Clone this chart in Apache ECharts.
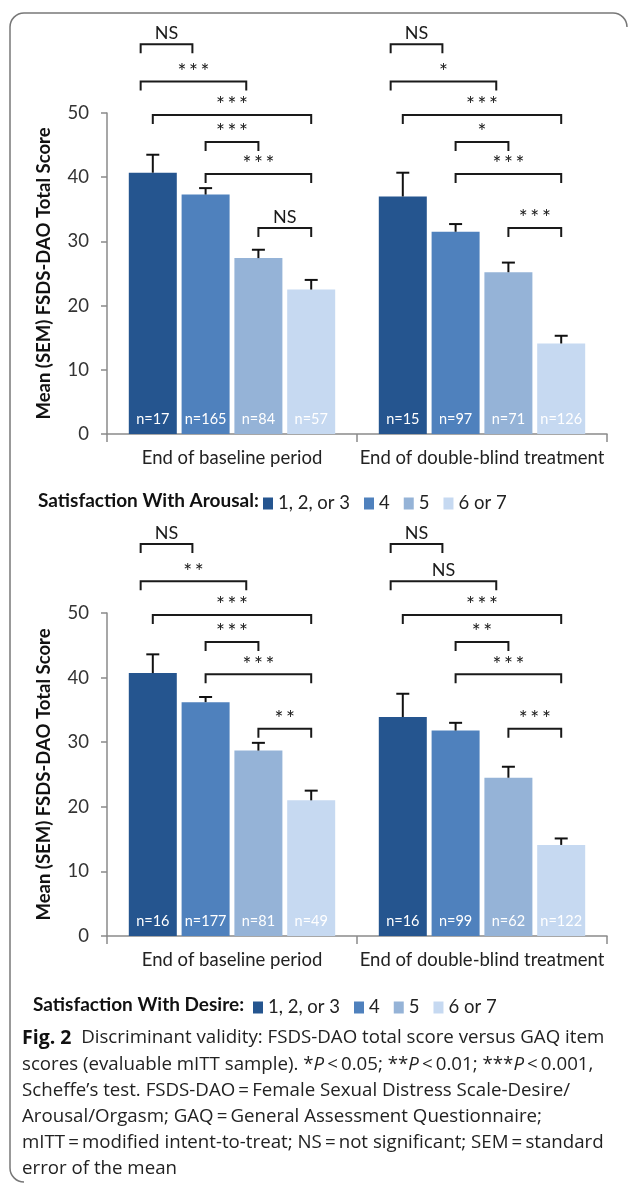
<!DOCTYPE html>
<html>
<head>
<meta charset="utf-8">
<script src="https://cdn.jsdelivr.net/npm/echarts@6/dist/echarts.min.js"></script>
<style>
html,body{margin:0;padding:0;background:#fff;}
#chart{width:630px;height:1185px;}
</style>
</head>
<body>
<div id="chart"></div>
<script>
// ---------- DATA ----------
const categories = ['End of baseline period', 'End of double-blind treatment'];
const levelNames = ['1, 2, or 3', '4', '5', '6 or 7'];
const yTicks = [0, 10, 20, 30, 40, 50];

// Satisfaction With Arousal (per level: [baseline, double-blind])
const arousalMean = [[40.7, 37.0], [37.3, 31.5], [27.4, 25.2], [22.5, 14.1]];
const arousalSem  = [[2.8, 3.7], [1.0, 1.2], [1.3, 1.5], [1.5, 1.2]];
const arousalN    = [[17, 15], [165, 97], [84, 71], [57, 126]];

// Satisfaction With Desire
const desireMean = [[40.7, 33.9], [36.2, 31.8], [28.7, 24.5], [21.0, 14.1]];
const desireSem  = [[2.9, 3.6], [0.8, 1.2], [1.2, 1.7], [1.5, 1.0]];
const desireN    = [[16, 16], [177, 99], [81, 62], [49, 122]];

// Significance brackets: [category, fromBar, toBar, level (score units)]
const bracketSpans = [
  [0, -0.23, 0.75, 60.7], [0, -0.23, 1.77, 54.9], [0, 0, 3, 49.7], [0, 1, 2, 45.5], [0, 1, 3, 40.5], [0, 2, 3, 32.1],
  [1, -0.23, 0.75, 60.7], [1, -0.23, 1.77, 54.9], [1, 0, 3, 49.7], [1, 1, 2, 45.5], [1, 1, 3, 40.5], [1, 2, 3, 32.1]
];
const arousalSig = ['NS', '***', '***', '***', '***', 'NS', 'NS', '*', '***', '*', '***', '***'];
const desireSig  = ['NS', '**', '***', '***', '***', '**', 'NS', 'NS', '***', '**', '***', '***'];

const legendTitles = ['Satisfaction With Arousal:', 'Satisfaction With Desire:'];
const yAxisTitle = 'Mean (SEM) FSDS-DAO Total Score';

// ---------- STYLE ----------
const colors = ['#25558F', '#4F81BD', '#95B3D7', '#C6D9F1'];
const FONT = 'Lato, "Open Sans", sans-serif';
const CAP_FONT = '"Open Sans", sans-serif';
const BAR_W = 48, BAR_GAP = 0.1;
const PITCH = BAR_W * (1 + BAR_GAP);

const chart = echarts.init(document.getElementById('chart'));

function starText(s) { return s.indexOf('*') >= 0 ? s.split('').join('\u2009') : s; }

function barSeries(means, ns, gi) {
  return means.map((vals, li) => ({
    type: 'bar', name: levelNames[li], xAxisIndex: gi, yAxisIndex: gi,
    data: vals, barWidth: BAR_W, barGap: (BAR_GAP * 100) + '%',
    itemStyle: { color: colors[li] },
    label: {
      show: true, position: 'insideBottom', distance: 7,
      color: '#fff', fontFamily: FONT, fontSize: 14.5,
      formatter: p => 'n=' + ns[li][p.dataIndex]
    },
    emphasis: { disabled: true }, animation: false
  }));
}

function errorSeries(means, sems, gi) {
  const data = [];
  means.forEach((vals, li) => vals.forEach((m, ci) => data.push([ci, li, m, m + sems[li][ci]])));
  return {
    type: 'custom', xAxisIndex: gi, yAxisIndex: gi, data: data, z: 5, clip: false, silent: true,
    encode: { x: 0, y: 3 },
    renderItem: (params, api) => {
      const base = api.coord([api.value(0), api.value(2)]);
      const top = api.coord([api.value(0), api.value(3)]);
      const x = base[0] + (api.value(1) - 1.5) * PITCH;
      return {
        type: 'group', children: [
          { type: 'line', shape: { x1: x, y1: base[1], x2: x, y2: top[1] }, style: { stroke: '#111', lineWidth: 2 } },
          { type: 'line', shape: { x1: x - 6.5, y1: top[1], x2: x + 6.5, y2: top[1] }, style: { stroke: '#111', lineWidth: 2 } }
        ]
      };
    }, animation: false
  };
}

function bracketSeries(labels, gi) {
  return {
    type: 'custom', xAxisIndex: gi, yAxisIndex: gi, data: bracketSpans, z: 6, clip: false, silent: true,
    encode: { x: 0, y: 3 },
    renderItem: (params, api) => {
      const c = api.coord([api.value(0), api.value(3)]);
      const x1 = c[0] + (api.value(1) - 1.5) * PITCH;
      const x2 = c[0] + (api.value(2) - 1.5) * PITCH;
      const y = c[1];
      const lab = labels[params.dataIndex];
      const isStar = lab.indexOf('*') >= 0;
      return {
        type: 'group', children: [
          { type: 'polyline', shape: { points: [[x1, y + 9], [x1, y], [x2, y], [x2, y + 9]] },
            style: { stroke: '#1a1a1a', lineWidth: 2, fill: null } },
          { type: 'text', x: (x1 + x2) / 2, y: isStar ? y + 1 : y - 2,
            style: { text: starText(lab), fill: '#1a1a1a', fontFamily: FONT,
                     fontSize: isStar ? 21 : 18, align: 'center', verticalAlign: 'bottom' } }
        ]
      };
    }, animation: false
  };
}

function xAxis(gi) {
  return {
    type: 'category', gridIndex: gi, data: categories,
    axisLine: { lineStyle: { color: '#8a8a8a', width: 1.5 } },
    axisTick: { show: true, length: 8, lineStyle: { color: '#8a8a8a', width: 1.5 } },
    axisLabel: { interval: 0, fontFamily: FONT, fontSize: 18.5, color: '#222', margin: 15 }
  };
}
function yAxis(gi) {
  return {
    type: 'value', gridIndex: gi, min: 0, max: 50, interval: 10,
    name: yAxisTitle, nameLocation: 'middle', nameGap: 53,
    nameTextStyle: { fontFamily: FONT, fontSize: 18.5, fontWeight: 'bold', color: '#111' },
    axisLine: { show: true, lineStyle: { color: '#8a8a8a', width: 1.5 } },
    axisTick: { show: true, length: 6, lineStyle: { color: '#8a8a8a', width: 1.5 } },
    splitLine: { show: false },
    axisLabel: { fontFamily: FONT, fontSize: 18.5, color: '#333', margin: 18,
                 formatter: v => yTicks.indexOf(v) >= 0 ? String(v) : '' }
  };
}

const caption =
  '{b|Fig. 2}  Discriminant validity: FSDS-DAO total score versus GAQ item\n' +
  'scores (evaluable mITT sample). *{i|P}\u2009<\u20090.05; **{i|P}\u2009<\u20090.01; ***{i|P}\u2009<\u20090.001,\n' +
  'Scheffe\u2019s test. FSDS-DAO\u2009=\u2009Female Sexual Distress Scale-Desire/\n' +
  'Arousal/Orgasm; GAQ\u2009=\u2009General Assessment Questionnaire;\n' +
  'mITT\u2009=\u2009modified intent-to-treat; NS\u2009=\u2009not significant; SEM\u2009=\u2009standard\n' +
  'error of the mean';

const frameStyle = { stroke: '#777', lineWidth: 1.5, fill: null };
const R = 14;
const legendText = { fontFamily: FONT, fontSize: 18.5, color: '#222' };
const legendTitleText = { fontFamily: FONT, fontSize: 19, fontWeight: 'bold', color: '#111' };

const option = {
  backgroundColor: '#fff',
  animation: false,
  color: colors,
  grid: [
    { left: 107, right: 23, top: 113, height: 321 },
    { left: 107, right: 23, top: 613, height: 323 }
  ],
  title: [
    { text: legendTitles[0], left: 33, top: 486, textStyle: legendTitleText },
    { text: legendTitles[1], left: 28, top: 990, textStyle: legendTitleText }
  ],
  legend: [
    { data: levelNames, left: 258, top: 489, icon: 'rect', itemWidth: 10, itemHeight: 12, itemGap: 14,
      selectedMode: false, textStyle: legendText },
    { data: levelNames, left: 248, top: 993, icon: 'rect', itemWidth: 10, itemHeight: 12, itemGap: 14,
      selectedMode: false, textStyle: legendText }
  ],
  xAxis: [xAxis(0), xAxis(1)],
  yAxis: [yAxis(0), yAxis(1)],
  series: [].concat(
    barSeries(arousalMean, arousalN, 0),
    barSeries(desireMean, desireN, 1),
    [errorSeries(arousalMean, arousalSem, 0), errorSeries(desireMean, desireSem, 1),
     bracketSeries(arousalSig, 0), bracketSeries(desireSig, 1)]
  ),
  graphic: [
    { type: 'line', silent: true, shape: { x1: 10 + R, y1: 13, x2: 627 - R, y2: 13 }, style: frameStyle },
    { type: 'line', silent: true, shape: { x1: 10, y1: 13 + R, x2: 10, y2: 1182 - R }, style: frameStyle },
    { type: 'arc', silent: true, shape: { cx: 10 + R, cy: 13 + R, r: R, startAngle: Math.PI, endAngle: Math.PI * 1.5, clockwise: true }, style: frameStyle },
    { type: 'arc', silent: true, shape: { cx: 627 - R, cy: 13 + R, r: R, startAngle: Math.PI * 1.5, endAngle: Math.PI * 2, clockwise: true }, style: frameStyle },
    { type: 'arc', silent: true, shape: { cx: 10 + R, cy: 1182 - R, r: R, startAngle: Math.PI * 0.5, endAngle: Math.PI, clockwise: true }, style: frameStyle },
    { type: 'text', left: 22, top: 1025, silent: true,
      style: { text: caption, fontFamily: CAP_FONT, fontSize: 18.7, lineHeight: 26.2, fill: '#222',
               rich: { b: { fontWeight: 'bold', fontSize: 19.5, lineHeight: 26.2, fontFamily: CAP_FONT, fill: '#111' },
                       i: { fontStyle: 'italic', fontSize: 18.7, lineHeight: 26.2, fontFamily: CAP_FONT, fill: '#222' } } } }
  ]
};
chart.setOption(option);
</script>
</body>
</html>
